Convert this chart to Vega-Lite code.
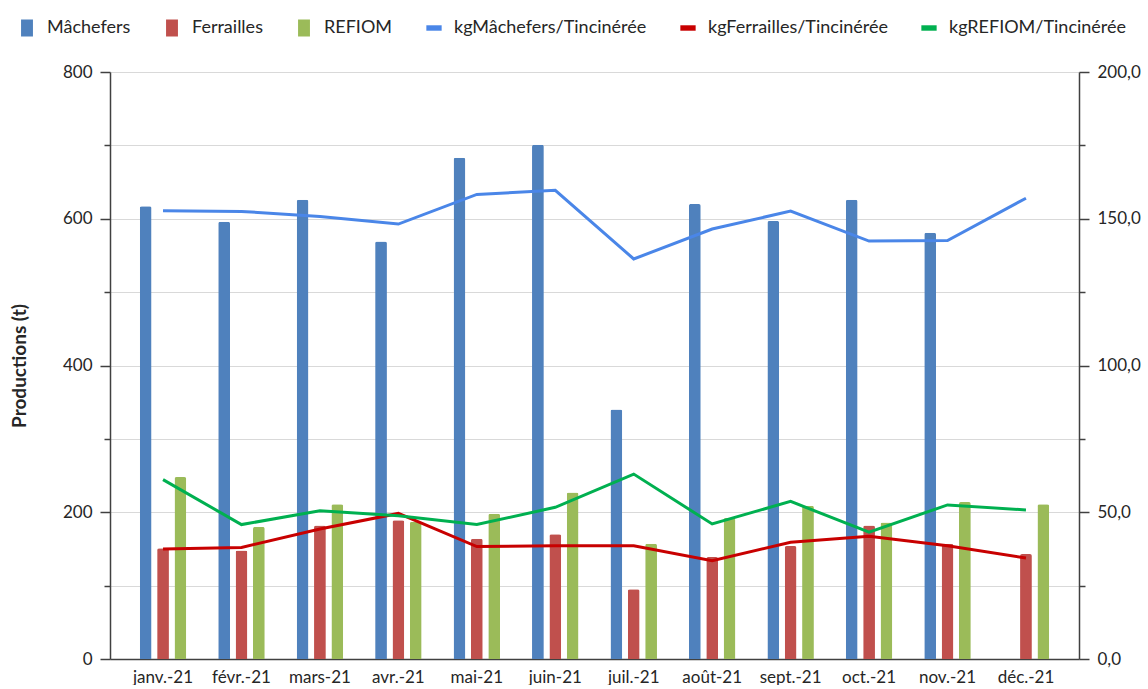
{
  "$schema": "https://vega.github.io/schema/vega-lite/v6.json",
  "width": 969,
  "height": 587,
  "padding": {"left": 10, "top": 19, "right": 5, "bottom": 0},
  "background": "white",
  "config": {
    "font": "Lato",
    "view": {"stroke": null},
    "axis": {"labelFont": "Lato", "titleFont": "Lato", "labelColor": "#404040", "titleColor": "#404040"},
    "legend": {"labelFont": "Lato"}
  },
  "data": {
    "values": [
      {"mois": "janv.-21", "type": "bar", "serie": "Mâchefers", "valeur": 617},
      {"mois": "févr.-21", "type": "bar", "serie": "Mâchefers", "valeur": 596},
      {"mois": "mars-21", "type": "bar", "serie": "Mâchefers", "valeur": 626},
      {"mois": "avr.-21", "type": "bar", "serie": "Mâchefers", "valeur": 569},
      {"mois": "mai-21", "type": "bar", "serie": "Mâchefers", "valeur": 683},
      {"mois": "juin-21", "type": "bar", "serie": "Mâchefers", "valeur": 701},
      {"mois": "juil.-21", "type": "bar", "serie": "Mâchefers", "valeur": 340},
      {"mois": "août-21", "type": "bar", "serie": "Mâchefers", "valeur": 620},
      {"mois": "sept.-21", "type": "bar", "serie": "Mâchefers", "valeur": 597},
      {"mois": "oct.-21", "type": "bar", "serie": "Mâchefers", "valeur": 626},
      {"mois": "nov.-21", "type": "bar", "serie": "Mâchefers", "valeur": 581},
      {"mois": "janv.-21", "type": "bar", "serie": "Ferrailles", "valeur": 151},
      {"mois": "févr.-21", "type": "bar", "serie": "Ferrailles", "valeur": 148},
      {"mois": "mars-21", "type": "bar", "serie": "Ferrailles", "valeur": 182},
      {"mois": "avr.-21", "type": "bar", "serie": "Ferrailles", "valeur": 189},
      {"mois": "mai-21", "type": "bar", "serie": "Ferrailles", "valeur": 164},
      {"mois": "juin-21", "type": "bar", "serie": "Ferrailles", "valeur": 170},
      {"mois": "juil.-21", "type": "bar", "serie": "Ferrailles", "valeur": 95},
      {"mois": "août-21", "type": "bar", "serie": "Ferrailles", "valeur": 139},
      {"mois": "sept.-21", "type": "bar", "serie": "Ferrailles", "valeur": 154},
      {"mois": "oct.-21", "type": "bar", "serie": "Ferrailles", "valeur": 182},
      {"mois": "nov.-21", "type": "bar", "serie": "Ferrailles", "valeur": 157},
      {"mois": "déc.-21", "type": "bar", "serie": "Ferrailles", "valeur": 143},
      {"mois": "janv.-21", "type": "bar", "serie": "REFIOM", "valeur": 248},
      {"mois": "févr.-21", "type": "bar", "serie": "REFIOM", "valeur": 180},
      {"mois": "mars-21", "type": "bar", "serie": "REFIOM", "valeur": 211},
      {"mois": "avr.-21", "type": "bar", "serie": "REFIOM", "valeur": 187},
      {"mois": "mai-21", "type": "bar", "serie": "REFIOM", "valeur": 198},
      {"mois": "juin-21", "type": "bar", "serie": "REFIOM", "valeur": 227},
      {"mois": "juil.-21", "type": "bar", "serie": "REFIOM", "valeur": 157},
      {"mois": "août-21", "type": "bar", "serie": "REFIOM", "valeur": 192},
      {"mois": "sept.-21", "type": "bar", "serie": "REFIOM", "valeur": 209},
      {"mois": "oct.-21", "type": "bar", "serie": "REFIOM", "valeur": 186},
      {"mois": "nov.-21", "type": "bar", "serie": "REFIOM", "valeur": 214},
      {"mois": "déc.-21", "type": "bar", "serie": "REFIOM", "valeur": 211},
      {"mois": "janv.-21", "type": "line", "serie": "kgMâchefers/Tincinérée", "valeur": 152.7},
      {"mois": "févr.-21", "type": "line", "serie": "kgMâchefers/Tincinérée", "valeur": 152.5},
      {"mois": "mars-21", "type": "line", "serie": "kgMâchefers/Tincinérée", "valeur": 150.8},
      {"mois": "avr.-21", "type": "line", "serie": "kgMâchefers/Tincinérée", "valeur": 148.2},
      {"mois": "mai-21", "type": "line", "serie": "kgMâchefers/Tincinérée", "valeur": 158.3},
      {"mois": "juin-21", "type": "line", "serie": "kgMâchefers/Tincinérée", "valeur": 159.7},
      {"mois": "juil.-21", "type": "line", "serie": "kgMâchefers/Tincinérée", "valeur": 136.3},
      {"mois": "août-21", "type": "line", "serie": "kgMâchefers/Tincinérée", "valeur": 146.5},
      {"mois": "sept.-21", "type": "line", "serie": "kgMâchefers/Tincinérée", "valeur": 152.6},
      {"mois": "oct.-21", "type": "line", "serie": "kgMâchefers/Tincinérée", "valeur": 142.4},
      {"mois": "nov.-21", "type": "line", "serie": "kgMâchefers/Tincinérée", "valeur": 142.6},
      {"mois": "déc.-21", "type": "line", "serie": "kgMâchefers/Tincinérée", "valeur": 157.0},
      {"mois": "janv.-21", "type": "line", "serie": "kgFerrailles/Tincinérée", "valeur": 37.5},
      {"mois": "févr.-21", "type": "line", "serie": "kgFerrailles/Tincinérée", "valeur": 38.0},
      {"mois": "mars-21", "type": "line", "serie": "kgFerrailles/Tincinérée", "valeur": 44.3},
      {"mois": "avr.-21", "type": "line", "serie": "kgFerrailles/Tincinérée", "valeur": 49.6},
      {"mois": "mai-21", "type": "line", "serie": "kgFerrailles/Tincinérée", "valeur": 38.3},
      {"mois": "juin-21", "type": "line", "serie": "kgFerrailles/Tincinérée", "valeur": 38.6},
      {"mois": "juil.-21", "type": "line", "serie": "kgFerrailles/Tincinérée", "valeur": 38.6},
      {"mois": "août-21", "type": "line", "serie": "kgFerrailles/Tincinérée", "valeur": 33.5},
      {"mois": "sept.-21", "type": "line", "serie": "kgFerrailles/Tincinérée", "valeur": 39.8},
      {"mois": "oct.-21", "type": "line", "serie": "kgFerrailles/Tincinérée", "valeur": 41.8},
      {"mois": "nov.-21", "type": "line", "serie": "kgFerrailles/Tincinérée", "valeur": 38.6},
      {"mois": "déc.-21", "type": "line", "serie": "kgFerrailles/Tincinérée", "valeur": 34.4},
      {"mois": "janv.-21", "type": "line", "serie": "kgREFIOM/Tincinérée", "valeur": 61.1},
      {"mois": "févr.-21", "type": "line", "serie": "kgREFIOM/Tincinérée", "valeur": 45.8},
      {"mois": "mars-21", "type": "line", "serie": "kgREFIOM/Tincinérée", "valeur": 50.5},
      {"mois": "avr.-21", "type": "line", "serie": "kgREFIOM/Tincinérée", "valeur": 48.8},
      {"mois": "mai-21", "type": "line", "serie": "kgREFIOM/Tincinérée", "valeur": 45.8},
      {"mois": "juin-21", "type": "line", "serie": "kgREFIOM/Tincinérée", "valeur": 51.7},
      {"mois": "juil.-21", "type": "line", "serie": "kgREFIOM/Tincinérée", "valeur": 63.0},
      {"mois": "août-21", "type": "line", "serie": "kgREFIOM/Tincinérée", "valeur": 46.0},
      {"mois": "sept.-21", "type": "line", "serie": "kgREFIOM/Tincinérée", "valeur": 53.7},
      {"mois": "oct.-21", "type": "line", "serie": "kgREFIOM/Tincinérée", "valeur": 43.2},
      {"mois": "nov.-21", "type": "line", "serie": "kgREFIOM/Tincinérée", "valeur": 52.5},
      {"mois": "déc.-21", "type": "line", "serie": "kgREFIOM/Tincinérée", "valeur": 50.8}
    ]
  },
  "encoding": {
    "x": {
      "field": "mois",
      "type": "nominal",
      "sort": ["janv.-21", "févr.-21", "mars-21", "avr.-21", "mai-21", "juin-21", "juil.-21", "août-21", "sept.-21", "oct.-21", "nov.-21", "déc.-21"],
      "scale": {"paddingInner": 0, "paddingOuter": 0.176},
      "axis": {
        "title": null,
        "labelAngle": 0,
        "labelFontSize": 17,
        "labelColor": "#262626",
        "labelPadding": 10,
        "ticks": false,
        "grid": false,
        "domainColor": "#404040",
        "domainWidth": 1.5
      }
    }
  },
  "layer": [
    {
      "transform": [{"filter": "datum.type === 'bar'"}],
      "mark": {"type": "bar", "cornerRadiusTopLeft": 2, "cornerRadiusTopRight": 2},
      "encoding": {
        "xOffset": {
          "field": "serie",
          "type": "nominal",
          "sort": ["Mâchefers", "Ferrailles", "REFIOM"],
          "scale": {"domain": ["Mâchefers", "Ferrailles", "REFIOM"], "paddingInner": 0.32, "paddingOuter": 0.92}
        },
        "y": {
          "field": "valeur",
          "type": "quantitative",
          "scale": {"domain": [0, 800], "nice": false},
          "axis": {
            "title": "Productions (t)",
            "titleFontSize": 19,
            "titleFontWeight": "bold",
            "titleColor": "#262626",
            "titlePadding": 33,
            "values": [0, 100, 200, 300, 400, 500, 600, 700, 800],
            "labelExpr": "datum.value % 200 === 0 ? datum.label : ''",
            "labelFontSize": 17,
            "labelColor": "#262626",
            "labelPadding": 8,
            "tickSize": {"condition": {"test": "datum.value % 200 === 0", "value": 10}, "value": 6},
            "tickWidth": 1.5,
            "tickColor": "#404040",
            "domainColor": "#404040",
            "domainWidth": 1.5,
            "gridColor": "#d9d9d9",
            "gridWidth": 1
          }
        },
        "color": {
          "field": "serie",
          "type": "nominal",
          "scale": {
            "domain": ["Mâchefers", "Ferrailles", "REFIOM", "kgMâchefers/Tincinérée", "kgFerrailles/Tincinérée", "kgREFIOM/Tincinérée"],
            "range": ["#4F81BD", "#C0504D", "#9BBB59", "#4A86E8", "#C80000", "#00B050"]
          },
          "legend": {
            "title": null,
            "orient": "none",
            "legendX": -92,
            "legendY": -53,
            "direction": "horizontal",
            "columns": 6,
            "labelFontSize": 18,
            "labelColor": "#262626",
            "labelLimit": 0,
            "symbolSize": 289,
            "labelOffset": 11,
            "columnPadding": 32,
            "encode": {
              "symbols": {
                "update": {
                  "shape": {"signal": "indexof(['Mâchefers','Ferrailles','REFIOM'], datum.value) >= 0 ? 'M-0.7,-1H0.7V1H-0.7Z' : 'M-0.9,-0.32H0.9V0.32H-0.9Z'"},
                  "fill": {"scale": "color", "field": "value"},
                  "stroke": {"value": "transparent"},
                  "strokeWidth": {"value": 0},
                  "opacity": {"value": 1}
                }
              }
            }
          }
        }
      }
    },
    {
      "transform": [{"filter": "datum.type === 'line'"}],
      "mark": {"type": "line", "strokeWidth": 3},
      "encoding": {
        "y": {
          "field": "valeur",
          "type": "quantitative",
          "scale": {"domain": [0, 200], "nice": false},
          "axis": {
            "orient": "right",
            "title": null,
            "values": [0, 25, 50, 75, 100, 125, 150, 175, 200],
            "labelExpr": "datum.value % 50 === 0 ? replace(format(datum.value, '.1f'), '.', ',') : ''",
            "labelFontSize": 17,
            "labelColor": "#262626",
            "labelPadding": 8,
            "tickSize": {"condition": {"test": "datum.value % 50 === 0", "value": 10}, "value": 6},
            "tickWidth": 1.5,
            "tickColor": "#404040",
            "domainColor": "#404040",
            "domainWidth": 1.5,
            "grid": false
          }
        },
        "color": {"field": "serie", "type": "nominal"}
      }
    }
  ],
  "resolve": {"scale": {"y": "independent"}}
}
